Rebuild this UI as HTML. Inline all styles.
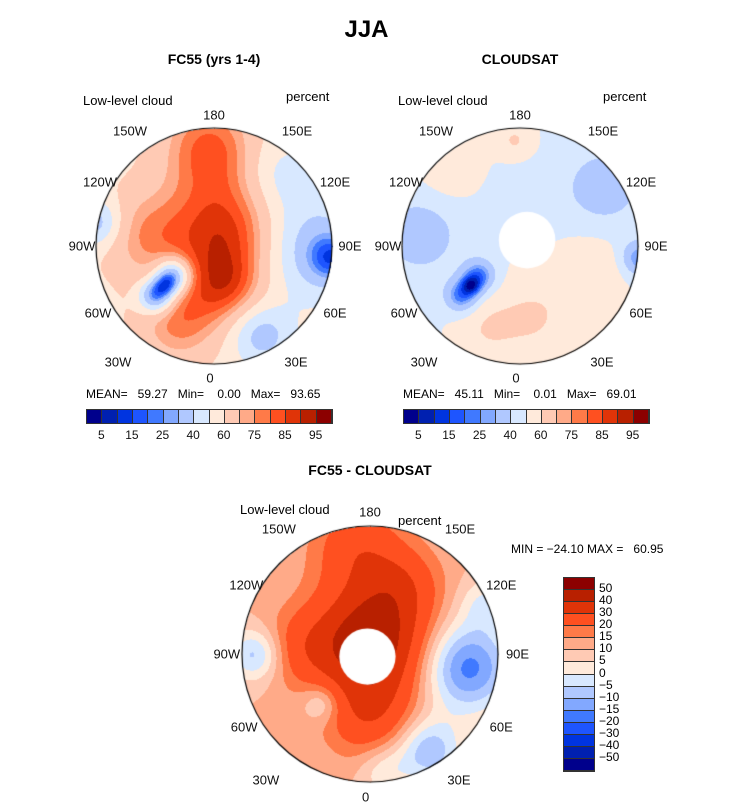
<!DOCTYPE html>
<html><head><meta charset="utf-8">
<style>
body{margin:0;background:#fff;width:733px;height:798px;position:relative;overflow:hidden;font-family:"Liberation Sans",sans-serif;}
.t{position:absolute;white-space:nowrap;color:#000;}
.lab{position:absolute;font-size:13px;transform:translate(-50%,-50%);white-space:nowrap;color:#111;}
canvas{position:absolute;}
.cb{position:absolute;display:flex;border:1px solid #333;}
.cb div{border-right:1px solid #333;}
</style></head><body>
<div class="t" style="left:0;width:733px;text-align:center;top:16px;font-size:24px;font-weight:bold;">JJA</div>
<div class="t" style="left:114px;width:200px;text-align:center;top:51px;font-size:14px;font-weight:bold;">FC55 (yrs 1-4)</div>
<div class="t" style="left:420px;width:200px;text-align:center;top:51px;font-size:14px;font-weight:bold;">CLOUDSAT</div>
<div class="t" style="left:270px;width:200px;text-align:center;top:462px;font-size:14px;font-weight:bold;">FC55 - CLOUDSAT</div>
<div class="t" style="left:83px;top:93px;font-size:13px;">Low-level cloud</div>
<div class="t" style="left:286px;top:89px;font-size:13px;">percent</div>
<div class="t" style="left:398px;top:93px;font-size:13px;">Low-level cloud</div>
<div class="t" style="left:603px;top:89px;font-size:13px;">percent</div>
<div class="t" style="left:240px;top:502px;font-size:13px;">Low-level cloud</div>
<div class="t" style="left:398px;top:513px;font-size:13px;">percent</div>
<div class="t" style="left:86px;top:387px;font-size:12px;">MEAN=&nbsp;&nbsp;&nbsp;59.27&nbsp;&nbsp;&nbsp;Min=&nbsp;&nbsp;&nbsp;&nbsp;0.00&nbsp;&nbsp;&nbsp;Max=&nbsp;&nbsp;&nbsp;93.65</div>
<div class="t" style="left:403px;top:387px;font-size:12px;">MEAN=&nbsp;&nbsp;&nbsp;45.11&nbsp;&nbsp;&nbsp;Min=&nbsp;&nbsp;&nbsp;&nbsp;0.01&nbsp;&nbsp;&nbsp;Max=&nbsp;&nbsp;&nbsp;69.01</div>
<div class="t" style="left:511px;top:542px;font-size:12px;">MIN = −24.10 MAX =&nbsp;&nbsp;&nbsp;60.95</div>
<div id="root"></div>
<script>
// ---- data ----
const absLevels=[5,10,15,20,25,30,40,50,60,70,75,80,85,90,95];
const absTickLabels=["5","15","25","40","60","75","85","95"];
const diffLevels=[-50,-40,-30,-20,-15,-10,-5,0,5,10,15,20,30,40,50];
const diffTickLabels=["50","40","30","20","15","10","5","0","−5","−10","−15","−20","−30","−40","−50"];
const palette=["#00008c","#0020b0","#0034e0","#1e55ff","#4079ff","#82a8ff","#b0c8ff","#d8e8ff","#ffeadb","#ffcab4","#ffaa88","#ff7a48","#ff5020","#e03408","#b82000","#8c0000"];
const lonNames=["0","30E","60E","90E","120E","150E","180","150W","120W","90W","60W","30W"];
// label offsets from map centre (for R=118)
const lonDX=[-4,82,121,136,121,83,0,-84,-114,-132,-116,-96];
const lonDY=[132,116,67,0,-64,-115,-131,-115,-64,0,67,116];
// field blobs: x (right +), y (down +) in units of map radius
const fcBase=56;
const fcX=[0.1,0.1,-0.05,-0.6,-0.5,-0.35,-0.42,-0.3,0.8,1.0,-1.0,0.4,0.55];
const fcY=[-0.1,0.35,-0.85,-0.1,0.42,0.25,0.33,0.65,0.0,0.1,-0.2,0.75,-0.6];
const fcAmp=[32,18,24,16,-42,-42,-20,20,-24,-25,-25,-22,-12];
const fcSize=[0.5,0.3,0.4,0.4,0.14,0.14,0.1,0.35,0.45,0.2,0.2,0.25,0.3];
const csBase=49;
const csX=[-0.5,-0.35,-0.42,-0.85,0.7,1.0,0.1,0.6,-0.05,-0.6,0.0,-0.3];
const csY=[0.42,0.25,0.33,-0.1,-0.5,0.1,0.6,0.2,-0.9,-0.65,-0.35,0.7];
const csAmp=[-28,-28,-20,-15,-15,-25,12,10,12,10,-8,9];
const csSize=[0.14,0.14,0.08,0.35,0.35,0.15,0.35,0.3,0.15,0.25,0.25,0.25];
const dfBase=10;
const dfX=[0.0,-0.1,0.0,0.75,0.45,-0.38,-0.9,0.25,-0.55,0.1,0.9];
const dfY=[-0.1,-0.85,0.5,0.1,0.75,0.38,0.0,-0.55,-0.05,0.9,-0.4];
const dfAmp=[38,15,15,-28,-20,-12,-18,12,10,-10,-10];
const dfSize=[0.45,0.35,0.35,0.35,0.25,0.15,0.2,0.3,0.3,0.2,0.2];

function mk(tag,name,inter){const e=document.createElement(tag);


document.getElementById('root').appendChild(e);return e;}
function hex(h){return [parseInt(h.substr(1,2),16),parseInt(h.substr(3,2),16),parseInt(h.substr(5,2),16)];}
const rgb=palette.map(hex);

function drawMap(name,cx,cy,R,base,bx,by,ba,bs,levels,hole){
  const c=mk('canvas',name,false);
  const W=2*R+4;c.width=W;c.height=W;c.style.left=(cx-R-2)+'px';c.style.top=(cy-R-2)+'px';
  const g=c.getContext('2d');const img=g.createImageData(W,W);
  for(let py=0;py<W;py++)for(let px=0;px<W;px++){
    const u=(px-R-2)/R,v=(py-R-2)/R;const i=(py*W+px)*4;
    if(u*u+v*v>1){img.data[i+3]=0;continue;}
    let val=base;
    for(let k=0;k<bx.length;k++){const dx=u-bx[k],dy=v-by[k];val+=ba[k]*Math.exp(-(dx*dx+dy*dy)/(bs[k]*bs[k]));}
    let idx=0;while(idx<levels.length&&val>=levels[idx])idx++;
    const col=rgb[idx];img.data[i]=col[0];img.data[i+1]=col[1];img.data[i+2]=col[2];img.data[i+3]=255;
  }
  g.putImageData(img,0,0);
  if(hole){g.fillStyle='#fff';g.beginPath();g.arc(R+2+hole[0]*R,R+2+hole[1]*R,hole[2]*R,0,7);g.fill();}
  g.strokeStyle='#000';g.lineWidth=1.2;g.beginPath();g.arc(R+2,R+2,R,0,7);g.stroke();
  const sc=R/118;
  for(let k=0;k<lonNames.length;k++){
    const l=mk('div',name+'-lon-'+lonNames[k].toLowerCase(),false);
    l.className='lab';l.textContent=lonNames[k];
    l.style.left=(cx+lonDX[k]*sc)+'px';l.style.top=(cy+lonDY[k]*sc)+'px';
  }
}
drawMap('fc55-map',214,246,118,fcBase,fcX,fcY,fcAmp,fcSize,absLevels,null);
drawMap('cloudsat-map',520,246,118,csBase,csX,csY,csAmp,csSize,absLevels,[0.06,-0.05,0.24]);
drawMap('difference-map',370,654,128,dfBase,dfX,dfY,dfAmp,dfSize,diffLevels,[-0.02,0.02,0.22]);

function hbar(name,x,y,w,h){
  const b=mk('div',name,false);b.className='cb';
  b.style.left=x+'px';b.style.top=y+'px';b.style.width=w+'px';b.style.height=h+'px';
  palette.forEach((p,i)=>{const s=document.createElement('div');
    
    
    s.style.flex='1';s.style.background=p;b.appendChild(s);});
  const sw=w/palette.length;
  absTickLabels.forEach((t,j)=>{const l=mk('div',name+'-tick',false);
    l.className='lab';l.style.fontSize='12px';l.textContent=t;
    l.style.left=(x+sw*(2*j+1))+'px';l.style.top=(y+h+13)+'px';});
}
hbar('fc55-colorbar',86,409,245,13);
hbar('cloudsat-colorbar',403,409,245,13);
(function(){
  const x=563,y=577,w=30,h=193;const n=palette.length;const sh=h/n;
  const b=mk('div','difference-colorbar',false);b.style.position='absolute';
  b.style.left=x+'px';b.style.top=y+'px';b.style.width=w+'px';b.style.height=h+'px';b.style.border='1px solid #333';
  for(let i=0;i<n;i++){const s=document.createElement('div');
    
    
    s.style.height=(sh-1)+'px';s.style.borderBottom='1px solid #333';s.style.background=palette[n-1-i];b.appendChild(s);}
  diffTickLabels.forEach((t,j)=>{const l=mk('div','difference-colorbar-tick',false);
    l.className='t';l.style.fontSize='12px';l.textContent=t;
    l.style.left=(x+w+6)+'px';l.style.top=(y+sh*(j+1)-8)+'px';});
})();
</script>
</body></html>
